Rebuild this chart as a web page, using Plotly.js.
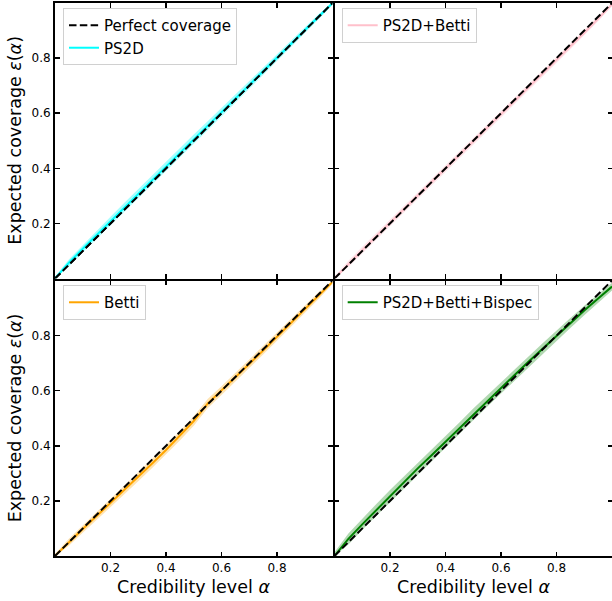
<!DOCTYPE html>
<html>
<head>
<meta charset="utf-8">
<script src="https://cdn.plot.ly/plotly-3.0.1.min.js"></script>
<style>
html, body { margin: 0; padding: 0; overflow: hidden; background: #fff; }
#plot { width: 613px; height: 601px; }
</style>
</head>
<body>
<div id="plot"></div>
<script>
// Credibility level grid
const alpha = [0.00,0.05,0.10,0.15,0.20,0.25,0.30,0.35,0.40,0.45,0.50,0.55,0.60,0.65,0.70,0.75,0.80,0.85,0.90,0.95,1.00];

// PS2D
const ps2dMid = [0.000,0.057,0.108,0.158,0.209,0.259,0.308,0.358,0.407,0.456,0.505,0.554,0.603,0.652,0.701,0.751,0.801,0.851,0.901,0.951,1.000];
const ps2dLo  = [0.000,0.044,0.094,0.143,0.194,0.244,0.292,0.341,0.390,0.439,0.488,0.538,0.588,0.638,0.688,0.738,0.788,0.839,0.890,0.941,0.993];
const ps2dHi  = [0.006,0.069,0.121,0.173,0.224,0.275,0.325,0.375,0.424,0.474,0.523,0.571,0.619,0.667,0.715,0.764,0.813,0.862,0.911,0.960,1.000];

// PS2D+Betti
const pbMid = [0.000,0.053,0.103,0.153,0.203,0.252,0.301,0.350,0.399,0.448,0.498,0.548,0.597,0.646,0.695,0.744,0.793,0.842,0.892,0.943,0.995];
const pbLo  = [0.000,0.042,0.091,0.141,0.190,0.240,0.289,0.338,0.387,0.436,0.485,0.535,0.585,0.634,0.684,0.733,0.782,0.832,0.882,0.934,0.988];
const pbHi  = [0.006,0.064,0.115,0.165,0.215,0.265,0.313,0.362,0.411,0.461,0.513,0.561,0.609,0.658,0.707,0.755,0.804,0.853,0.902,0.952,1.000];

// Betti
const btMid = [0.000,0.050,0.098,0.145,0.192,0.240,0.288,0.336,0.385,0.436,0.490,0.553,0.600,0.648,0.697,0.746,0.796,0.845,0.895,0.945,0.995];
const btLo  = [0.000,0.037,0.084,0.130,0.176,0.224,0.271,0.319,0.368,0.419,0.473,0.536,0.584,0.632,0.682,0.731,0.781,0.831,0.882,0.933,0.987];
const btHi  = [0.007,0.063,0.112,0.160,0.208,0.256,0.304,0.353,0.402,0.453,0.507,0.570,0.616,0.664,0.712,0.761,0.810,0.859,0.908,0.957,1.000];

// PS2D+Betti+Bispec
const pbbMid = [0.000,0.062,0.115,0.166,0.217,0.267,0.318,0.366,0.415,0.464,0.514,0.563,0.610,0.658,0.706,0.753,0.800,0.846,0.891,0.935,0.978];
const pbbLo  = [0.000,0.042,0.095,0.145,0.195,0.245,0.296,0.345,0.394,0.443,0.493,0.542,0.590,0.638,0.686,0.734,0.781,0.828,0.874,0.919,0.964];
const pbbHi  = [0.014,0.082,0.136,0.188,0.240,0.290,0.340,0.388,0.436,0.485,0.535,0.584,0.630,0.678,0.725,0.772,0.819,0.864,0.908,0.951,0.992];

const perfect = [0.00,0.05,0.10,0.15,0.20,0.25,0.30,0.35,0.40,0.45,0.50,0.55,0.60,0.65,0.70,0.75,0.80,0.85,0.90,0.95,1.00];

const panels = [
  {name:'PS2D', mid:ps2dMid, lo:ps2dLo, hi:ps2dHi, color:'#00FFFF', fill:'rgba(0,255,255,0.35)', xa:'x', ya:'y', legend:'legend'},
  {name:'PS2D+Betti', mid:pbMid, lo:pbLo, hi:pbHi, color:'#FFC0CB', fill:'rgba(255,192,203,0.4)', xa:'x2', ya:'y2', legend:'legend2'},
  {name:'Betti', mid:btMid, lo:btLo, hi:btHi, color:'#FFA500', fill:'rgba(255,165,0,0.3)', xa:'x3', ya:'y3', legend:'legend3'},
  {name:'PS2D+Betti+Bispec', mid:pbbMid, lo:pbbLo, hi:pbbHi, color:'#008000', fill:'rgba(0,128,0,0.3)', xa:'x4', ya:'y4', legend:'legend4'}
];

const dash = '7.5px,3.3px';
const traces = [];
panels.forEach((p, i) => {
  traces.push({
    x: alpha.concat(alpha.slice().reverse()),
    y: p.lo.concat(p.hi.slice().reverse()),
    xaxis: p.xa, yaxis: p.ya, type: 'scatter', mode: 'lines',
    fill: 'toself', fillcolor: p.fill, line: {width: 0, color: p.fill},
    showlegend: false, hoverinfo: 'skip'
  });
  if (i === 0) {
    traces.push({
      x: alpha, y: perfect, xaxis: p.xa, yaxis: p.ya, type: 'scatter', mode: 'lines',
      name: 'Perfect coverage', line: {color: 'black', width: 2, dash: dash},
      legend: p.legend, showlegend: true
    });
  }
  traces.push({
    x: alpha, y: p.mid, xaxis: p.xa, yaxis: p.ya, type: 'scatter', mode: 'lines',
    name: p.name, line: {color: p.color, width: 2}, legend: p.legend, showlegend: true
  });
  if (i !== 0) {
    traces.push({
      x: alpha, y: perfect, xaxis: p.xa, yaxis: p.ya, type: 'scatter', mode: 'lines',
      name: 'Perfect coverage', line: {color: 'black', width: 2, dash: dash},
      showlegend: false
    });
  }
});
traces.push({
  x: alpha, y: perfect, xaxis: 'x', yaxis: 'y', type: 'scatter', mode: 'lines',
  line: {color: 'black', width: 2, dash: dash}, showlegend: false
});

const tickVals = [0.2, 0.4, 0.6, 0.8];
function ax(domain, anchor, showLabels) {
  return {
    domain: domain, anchor: anchor, range: [0, 1],
    tickvals: tickVals, ticktext: tickVals.map(v => v.toFixed(1)),
    ticks: 'inside', ticklen: 4.5, tickwidth: 1.5, tickcolor: 'black',
    showline: true, linecolor: 'black', linewidth: 2, mirror: 'ticks',
    showgrid: false, zeroline: false, showticklabels: showLabels,
    tickfont: {family: 'DejaVu Sans', size: 12, color: 'black'}
  };
}

const legendBase = {
  bgcolor: 'rgba(255,255,255,0.8)', bordercolor: '#d0d0d0', borderwidth: 1,
  font: {family: 'DejaVu Sans', size: 15, color: 'black'},
  xanchor: 'left', yanchor: 'top', tracegroupgap: 0, itemwidth: 30
};

const L = [0, 277.5 / 557], R = [279.5 / 557, 1];
const B = [0, 275.5 / 553], T = [277.5 / 553, 1];

const titleFont = {family: 'DejaVu Sans', size: 17.5, color: 'black'};
const layout = {
  width: 613, height: 601,
  margin: {l: 55, r: 1, t: 3, b: 45},
  paper_bgcolor: 'white', plot_bgcolor: 'white',
  font: {family: 'DejaVu Sans', color: 'black'},
  xaxis: ax(L, 'y', false),
  yaxis: ax(T, 'x', true),
  xaxis2: ax(R, 'y2', false),
  yaxis2: ax(T, 'x2', false),
  xaxis3: ax(L, 'y3', true),
  yaxis3: ax(B, 'x3', true),
  xaxis4: ax(R, 'y4', true),
  yaxis4: ax(B, 'x4', false),
  legend: Object.assign({}, legendBase, {x: 0.0144, y: 0.991}),
  legend2: Object.assign({}, legendBase, {x: 0.5147, y: 0.991}),
  legend3: Object.assign({}, legendBase, {x: 0.0144, y: 0.490}),
  legend4: Object.assign({}, legendBase, {x: 0.5147, y: 0.490}),
  annotations: [
    {text: 'Credibility level <i>α</i>', xref: 'paper', yref: 'paper', x: 0.249, y: -0.056, showarrow: false, xanchor: 'center', yanchor: 'middle', font: titleFont},
    {text: 'Credibility level <i>α</i>', xref: 'paper', yref: 'paper', x: 0.751, y: -0.056, showarrow: false, xanchor: 'center', yanchor: 'middle', font: titleFont},
    {text: 'Expected coverage <i>ε</i>(<i>α</i>)', xref: 'paper', yref: 'paper', x: -0.0718, y: 0.751, textangle: -90, showarrow: false, xanchor: 'center', yanchor: 'middle', font: titleFont},
    {text: 'Expected coverage <i>ε</i>(<i>α</i>)', xref: 'paper', yref: 'paper', x: -0.0718, y: 0.249, textangle: -90, showarrow: false, xanchor: 'center', yanchor: 'middle', font: titleFont}
  ],
  showlegend: true
};

Plotly.newPlot('plot', traces, layout, {displayModeBar: false, staticPlot: true});
</script>
</body>
</html>
